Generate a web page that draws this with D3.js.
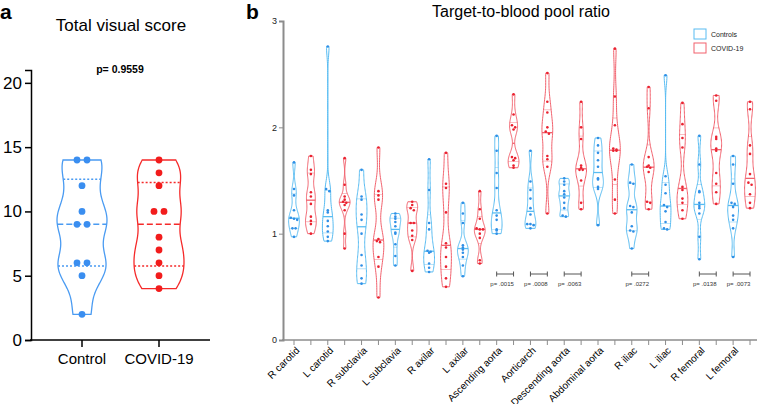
<!DOCTYPE html>
<html><head><meta charset="utf-8">
<script src="https://cdn.jsdelivr.net/npm/d3@7"></script>
<style>body{margin:0;background:#fff} svg{display:block} text{font-family:Arial,"Liberation Sans",sans-serif}</style>
</head><body>
<svg id="c" width="761" height="404"></svg>
<script>
// ---------- Panel a data ----------
const groupsA = ["Control", "COVID-19"];
const scoreControl = [14, 14, 12, 10, 9, 9, 6, 6, 5, 2];
const scoreCovid = [14, 13, 12, 10, 10, 8, 7, 6, 5, 4];
const ticksA = [0, 5, 10, 15, 20];
const pValueA = "p= 0.9559";

// ---------- Panel b data ----------
const sites = ["R carotid", "L carotid", "R subclavia", "L subclavia", "R axilar", "L axilar",
  "Ascending aorta", "Aorticarch", "Descending aorta", "Abdominal aorta", "R iliac", "L iliac",
  "R femoral", "L femoral"];
const controlsRatio = [
  [1.67, 1.42, 1.36, 1.22, 1.15, 1.14, 1.13, 1.05, 1.05, 0.97],
  [2.76, 1.42, 1.40, 1.22, 1.20, 1.12, 1.07, 1.02, 0.97, 0.93],
  [1.60, 1.35, 1.32, 1.18, 1.13, 1.00, 0.80, 0.70, 0.58, 0.53],
  [1.19, 1.16, 1.14, 1.11, 1.07, 1.01, 1.00, 0.90, 0.79, 0.70],
  [1.70, 1.41, 1.10, 1.04, 0.84, 0.83, 0.82, 0.72, 0.68, 0.64],
  [1.29, 1.19, 1.10, 0.89, 0.87, 0.85, 0.82, 0.78, 0.70, 0.60],
  [1.92, 1.78, 1.57, 1.43, 1.22, 1.17, 1.13, 1.04, 1.03, 1.00],
  [1.78, 1.49, 1.41, 1.33, 1.24, 1.18, 1.09, 1.09, 1.08, 1.05],
  [1.52, 1.49, 1.46, 1.40, 1.37, 1.34, 1.29, 1.24, 1.17, 1.16],
  [1.90, 1.83, 1.76, 1.69, 1.63, 1.52, 1.51, 1.44, 1.42, 1.08],
  [1.65, 1.48, 1.47, 1.26, 1.25, 1.20, 1.07, 1.03, 1.02, 0.86],
  [2.49, 1.54, 1.46, 1.38, 1.27, 1.25, 1.21, 1.11, 1.05, 1.04],
  [1.92, 1.65, 1.40, 1.39, 1.29, 1.26, 1.24, 1.19, 0.97, 0.76],
  [1.73, 1.65, 1.47, 1.29, 1.28, 1.25, 1.17, 1.13, 1.05, 0.78]
];
const covidRatio = [
  [1.73, 1.60, 1.56, 1.39, 1.35, 1.28, 1.16, 1.12, 1.09, 1.00],
  [1.71, 1.46, 1.35, 1.32, 1.30, 1.29, 1.27, 1.22, 1.00, 0.86],
  [1.81, 1.40, 1.36, 1.32, 0.95, 0.93, 0.92, 0.78, 0.69, 0.40],
  [1.30, 1.27, 1.24, 1.22, 1.10, 1.10, 1.03, 0.98, 0.94, 0.65],
  [1.76, 1.47, 1.43, 1.20, 0.91, 0.87, 0.78, 0.69, 0.58, 0.50],
  [1.40, 1.23, 1.14, 1.05, 1.04, 1.04, 1.00, 0.96, 0.75, 0.72],
  [2.31, 2.12, 2.02, 2.00, 1.98, 1.72, 1.71, 1.69, 1.64, 1.62],
  [2.51, 2.24, 2.14, 2.00, 1.96, 1.94, 1.73, 1.70, 1.63, 1.19],
  [2.24, 2.00, 1.89, 1.64, 1.62, 1.60, 1.60, 1.50, 1.29, 1.23],
  [2.74, 2.29, 2.02, 1.80, 1.79, 1.78, 1.78, 1.51, 1.32, 1.19],
  [2.38, 2.18, 1.72, 1.64, 1.63, 1.62, 1.58, 1.30, 1.29, 1.23],
  [2.23, 2.03, 1.90, 1.81, 1.44, 1.41, 1.33, 1.29, 1.22, 1.14],
  [2.30, 2.25, 1.91, 1.89, 1.80, 1.78, 1.57, 1.47, 1.39, 1.28],
  [2.24, 2.17, 1.83, 1.75, 1.56, 1.48, 1.46, 1.37, 1.29, 1.24]
];
const pValuesB = ["", "", "", "", "", "", "p= .0015", "p= .0008", "p= .0063", "", "p= .0272", "", "p= .0138", "p= .0073"];
const ticksB = [0, 1, 2, 3];
const legendLabels = ["Controls", "COVID-19"];

// ---------- helpers ----------
const svg = d3.select("#c");
function q(vals, p) { // Prism-style (n+1) quantile
  const s = vals.slice().sort(d3.ascending), n = s.length;
  let pos = (n + 1) * p; if (pos < 1) pos = 1; if (pos > n) pos = n;
  const lo = Math.floor(pos), f = pos - lo;
  return lo >= n ? s[n - 1] : s[lo - 1] + f * (s[lo] - s[lo - 1]);
}
function bandwidth(vals, k) {
  const sd = d3.deviation(vals);
  const iqr = q(vals, 0.75) - q(vals, 0.25);
  const m = Math.min(sd, iqr / 1.34) || sd;
  return k * 0.9 * m * Math.pow(vals.length, -0.2);
}
function density(vals, h, y) {
  let d = 0; for (const v of vals) { const u = (y - v) / h; d += Math.exp(-0.5 * u * u); } return d;
}
function violin(g, vals, cx, y, halfW, k, color, sw) {
  const lo = d3.min(vals), hi = d3.max(vals), h = bandwidth(vals, k);
  const N = 90, pts = d3.range(N + 1).map(i => { const v = lo + (hi - lo) * i / N; return [v, density(vals, h, v)]; });
  const dmax = d3.max(pts, d => d[1]);
  const wf = v => density(vals, h, v) / dmax * halfW;
  g.append("path").attr("d", d3.area().curve(d3.curveBasis)
      .y(d => y(d[0])).x0(d => cx - d[1] / dmax * halfW).x1(d => cx + d[1] / dmax * halfW)(pts))
    .attr("fill", "none").attr("stroke", color).attr("stroke-width", sw);
  return wf;
}

// ================= Panel a =================
const ya = d3.scaleLinear().domain([0, 21]).range([340, 70]);
const xa = d3.scalePoint().domain(groupsA).range([82, 159]);
const ga = svg.append("g");
ga.append("text").attr("x", 0).attr("y", 19).attr("font-size", 21).attr("font-weight", "bold").text("a");
ga.append("text").attr("x", 121).attr("y", 31).attr("text-anchor", "middle").attr("font-size", 17).text("Total visual score");
ga.append("text").attr("x", 120).attr("y", 73).attr("text-anchor", "middle").attr("font-size", 10.5).attr("font-weight", "bold").text(pValueA);

const axA = ga.append("g").attr("transform", "translate(31,0)").call(d3.axisLeft(ya).tickValues(ticksA).tickSize(6).tickPadding(3));
axA.select(".domain").attr("stroke-width", 1.5);
axA.selectAll(".tick line").attr("stroke-width", 1.5);
axA.selectAll("text").attr("font-size", 17).attr("font-family", "Arial, Liberation Sans, sans-serif");
ga.append("line").attr("x1", 30).attr("x2", 210).attr("y1", 340).attr("y2", 340).attr("stroke", "#000").attr("stroke-width", 1.5);
groupsA.forEach(gn => {
  ga.append("line").attr("x1", xa(gn)).attr("x2", xa(gn)).attr("y1", 340).attr("y2", 347).attr("stroke", "#000").attr("stroke-width", 1.5);
  ga.append("text").attr("x", xa(gn)).attr("y", 364).attr("text-anchor", "middle").attr("font-size", 15).text(gn);
});

[[scoreControl, "#4a9bf2", "#3a8ef0"], [scoreCovid, "#f52a2a", "#f21c1c"]].forEach(([vals, sc, pc], i) => {
  const cx = xa(groupsA[i]);
  const wf = violin(ga, vals, cx, ya, 25, 0.62, sc, 1.3);
  [[0.5, "6,3"], [0.25, "2,2"], [0.75, "2,2"]].forEach(([p, dash]) => {
    const v = q(vals, p), w = wf(v);
    ga.append("line").attr("x1", cx - w).attr("x2", cx + w).attr("y1", ya(v)).attr("y2", ya(v))
      .attr("stroke", sc).attr("stroke-width", 1.4).attr("stroke-dasharray", dash);
  });
  const counts = d3.rollup(vals, v => v.length, d => d);
  const seen = new Map();
  vals.forEach(v => {
    const n = counts.get(v), k = seen.get(v) || 0; seen.set(v, k + 1);
    ga.append("circle").attr("cx", cx + (k - (n - 1) / 2) * 10).attr("cy", ya(v)).attr("r", 3.4).attr("fill", pc);
  });
});

// ================= Panel b =================
const yb = d3.scaleLinear().domain([0, 3]).range([340, 21]);
const slots = sites.flatMap(s => [s + "|c", s + "|v"]);
const xb = d3.scalePoint().domain(slots).range([294, 750]);
const gb = svg.append("g");
gb.append("text").attr("x", 246).attr("y", 19).attr("font-size", 21).attr("font-weight", "bold").text("b");
gb.append("text").attr("x", 521).attr("y", 17).attr("text-anchor", "middle").attr("font-size", 16).text("Target-to-blood pool ratio");

const axColor = "#8c8c8c";
const axB = gb.append("g").attr("transform", "translate(283,0)").call(d3.axisLeft(yb).tickValues(ticksB).tickFormat(d3.format("d")).tickSize(4).tickPadding(2));
axB.select(".domain").attr("stroke", axColor).attr("stroke-width", 2);
axB.selectAll(".tick line").attr("stroke", axColor);
axB.selectAll("text").attr("font-size", 9).attr("fill", "#222").attr("font-family", "Arial, Liberation Sans, sans-serif");
gb.append("line").attr("x1", 282).attr("x2", 757).attr("y1", 340).attr("y2", 340).attr("stroke", axColor).attr("stroke-width", 1.5);
slots.forEach(s => gb.append("line").attr("x1", xb(s)).attr("x2", xb(s)).attr("y1", 340).attr("y2", 345).attr("stroke", axColor).attr("stroke-width", 1));
sites.forEach(s => {
  gb.append("text").attr("transform", `translate(${xb(s + "|c") + 1},346) rotate(-45)`)
    .attr("text-anchor", "end").attr("dy", "0.72em").attr("font-size", 10).text(s);
});

const colB = { c: ["#58bcf2", "#2f8fe6"], v: ["#f2606c", "#ea2230"] };
sites.forEach((s, i) => {
  [["c", controlsRatio[i]], ["v", covidRatio[i]]].forEach(([key, vals]) => {
    const cx = xb(s + "|" + key), [sc, pc] = colB[key];
    const wf = violin(gb, vals, cx, yb, 5.4, 0.55, sc, 1);
    [[0.5, 1.3, 1], [0.25, 0.6, 0.7], [0.75, 0.6, 0.7]].forEach(([p, sw, op]) => {
      const v = q(vals, p), w = wf(v);
      gb.append("line").attr("x1", cx - w).attr("x2", cx + w).attr("y1", yb(v)).attr("y2", yb(v))
        .attr("stroke", sc).attr("stroke-width", sw).attr("opacity", op);
    });
    const keyOf = v => Math.round(v / 0.03);
    const counts = d3.rollup(vals, v => v.length, keyOf);
    const seen = new Map();
    vals.forEach(v => {
      const kk = keyOf(v), n = counts.get(kk), k = seen.get(kk) || 0; seen.set(kk, k + 1);
      gb.append("circle").attr("cx", cx + (k - (n - 1) / 2) * 3.2).attr("cy", yb(v)).attr("r", 1.3).attr("fill", pc);
    });
  });
  if (pValuesB[i]) {
    const x1 = xb(s + "|c"), x2 = xb(s + "|v"), yy = 274;
    const pg = gb.append("g").attr("stroke", "#555").attr("stroke-width", 1);
    pg.append("line").attr("x1", x1).attr("x2", x2).attr("y1", yy).attr("y2", yy);
    pg.append("line").attr("x1", x1).attr("x2", x1).attr("y1", yy - 2.5).attr("y2", yy + 2.5);
    pg.append("line").attr("x1", x2).attr("x2", x2).attr("y1", yy - 2.5).attr("y2", yy + 2.5);
    gb.append("text").attr("x", (x1 + x2) / 2 - 3).attr("y", 286).attr("text-anchor", "middle").attr("font-size", 6).attr("fill", "#333").text(pValuesB[i]);
  }
});

// legend
legendLabels.forEach((l, i) => {
  gb.append("rect").attr("x", 694).attr("y", 29 + i * 14).attr("width", 12).attr("height", 10)
    .attr("fill", "none").attr("stroke", i ? colB.v[0] : colB.c[0]).attr("stroke-width", 1);
  gb.append("text").attr("x", 711).attr("y", 36.5 + i * 14).attr("font-size", 7).attr("fill", "#222").text(l);
});
</script>
</body></html>
